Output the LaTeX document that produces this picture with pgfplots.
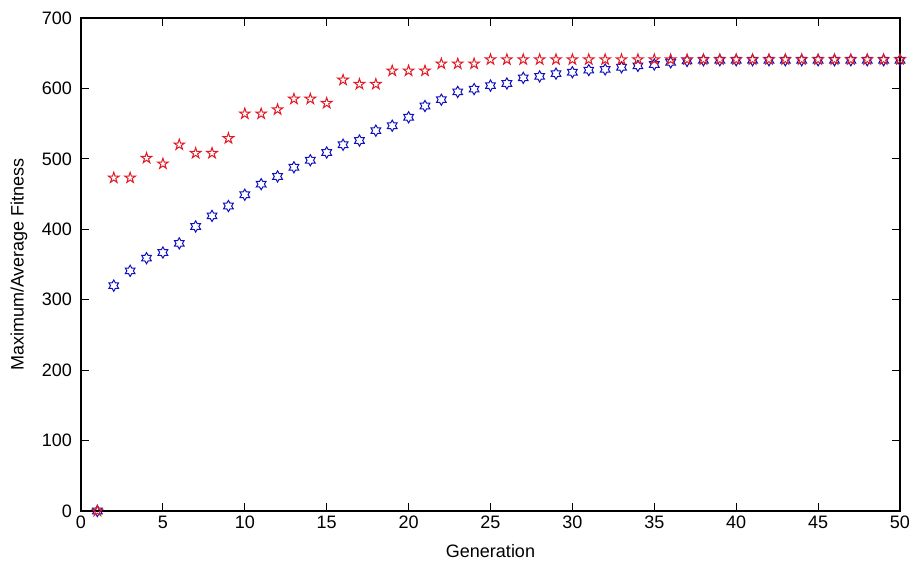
\documentclass[border=0pt]{standalone}
\usepackage{fontspec}
\setmainfont{Liberation Sans}
\usepackage{pgfplots}
\pgfplotsset{compat=1.18}

% MATLAB-like pentagram and hexagram outlines
\pgfdeclareplotmark{pentagram}{%
  \pgfpathmoveto{\pgfpointpolar{90}{\pgfplotmarksize}}%
  \pgfpathlineto{\pgfpointpolar{126}{0.382\pgfplotmarksize}}%
  \pgfpathlineto{\pgfpointpolar{162}{\pgfplotmarksize}}%
  \pgfpathlineto{\pgfpointpolar{198}{0.382\pgfplotmarksize}}%
  \pgfpathlineto{\pgfpointpolar{234}{\pgfplotmarksize}}%
  \pgfpathlineto{\pgfpointpolar{270}{0.382\pgfplotmarksize}}%
  \pgfpathlineto{\pgfpointpolar{306}{\pgfplotmarksize}}%
  \pgfpathlineto{\pgfpointpolar{342}{0.382\pgfplotmarksize}}%
  \pgfpathlineto{\pgfpointpolar{18}{\pgfplotmarksize}}%
  \pgfpathlineto{\pgfpointpolar{54}{0.382\pgfplotmarksize}}%
  \pgfpathclose
  \pgfusepathqstroke
}
\pgfdeclareplotmark{hexagram}{%
  \pgfpathmoveto{\pgfpointpolar{90}{\pgfplotmarksize}}%
  \pgfpathlineto{\pgfpointpolar{120}{0.577\pgfplotmarksize}}%
  \pgfpathlineto{\pgfpointpolar{150}{\pgfplotmarksize}}%
  \pgfpathlineto{\pgfpointpolar{180}{0.577\pgfplotmarksize}}%
  \pgfpathlineto{\pgfpointpolar{210}{\pgfplotmarksize}}%
  \pgfpathlineto{\pgfpointpolar{240}{0.577\pgfplotmarksize}}%
  \pgfpathlineto{\pgfpointpolar{270}{\pgfplotmarksize}}%
  \pgfpathlineto{\pgfpointpolar{300}{0.577\pgfplotmarksize}}%
  \pgfpathlineto{\pgfpointpolar{330}{\pgfplotmarksize}}%
  \pgfpathlineto{\pgfpointpolar{0}{0.577\pgfplotmarksize}}%
  \pgfpathlineto{\pgfpointpolar{30}{\pgfplotmarksize}}%
  \pgfpathlineto{\pgfpointpolar{60}{0.577\pgfplotmarksize}}%
  \pgfpathclose
  \pgfusepathqstroke
}

\definecolor{mred}{RGB}{225,25,35}
\definecolor{mblue}{RGB}{15,15,190}

\pgfplotstableread{
gen avg
1 0
2 320
3 341
4 359
5 367
6 380
7 404
8 419
9 433
10 449
11 464
12 475
13 488
14 498
15 509
16 520
17 526
18 540
19 547
20 559
21 575
22 584
23 595
24 599
25 604
26 607
27 615
28 617
29 621
30 623
31 626
32 627
33 630
34 632
35 634
36 637
37 639
38 640
39 640
40 640
41 640
42 640
43 640
44 640
45 640
46 640
47 640
48 640
49 640
50 640
}\avgdata

\pgfplotstableread{
gen max
1 0
2 473
3 473
4 501
5 493
6 520
7 508
8 508
9 529
10 564
11 564
12 570
13 585
14 585
15 579
16 612
17 606
18 606
19 625
20 625
21 625
22 635
23 635
24 635
25 641
26 641
27 641
28 641
29 641
30 641
31 641
32 641
33 641
34 641
35 641
36 641
37 641
38 641
39 641
40 641
41 641
42 641
43 641
44 641
45 641
46 641
47 641
48 641
49 641
50 641
}\maxdata

\begin{document}
\begin{tikzpicture}
\begin{axis}[
    scale only axis,
    width=409.5pt, height=246.5pt,
    xmin=0, xmax=50,
    ymin=0, ymax=700,
    xtick={0,5,...,50},
    ytick={0,100,...,700},
    tick align=inside,
    major tick length=4pt,
    tick style={black, line width=0.5pt},
    axis line style={line width=0.6pt},
    ticklabel style={font=\fontsize{9}{10}\selectfont},
    /pgf/number format/assume math mode=true,
    xticklabel style={yshift=1pt},
    yticklabel style={xshift=-1pt},
    xlabel={Generation},
    ylabel={Maximum/Average Fitness},
    label style={font=\fontsize{9}{10}\selectfont},
    xlabel style={at={(rel axis cs:0.5,0)}, anchor=center, yshift=-20pt},
    ylabel style={at={(rel axis cs:0,0.5)}, anchor=center, yshift=31pt},
    clip=false,
]
\addplot[only marks, mark=hexagram, mark size=2.8pt, mblue, mark options={line width=0.5pt}]
    table[x=gen, y=avg] {\avgdata};
\addplot[only marks, mark=pentagram, mark size=2.8pt, mred, mark options={line width=0.5pt}]
    table[x=gen, y=max] {\maxdata};
\end{axis}
\pgfresetboundingbox
\path[use as bounding box] ([shift={(-40.5pt,-27pt)}]current axis.south west)
    rectangle ([shift={(7pt,9pt)}]current axis.north east);
\end{tikzpicture}
\end{document}
